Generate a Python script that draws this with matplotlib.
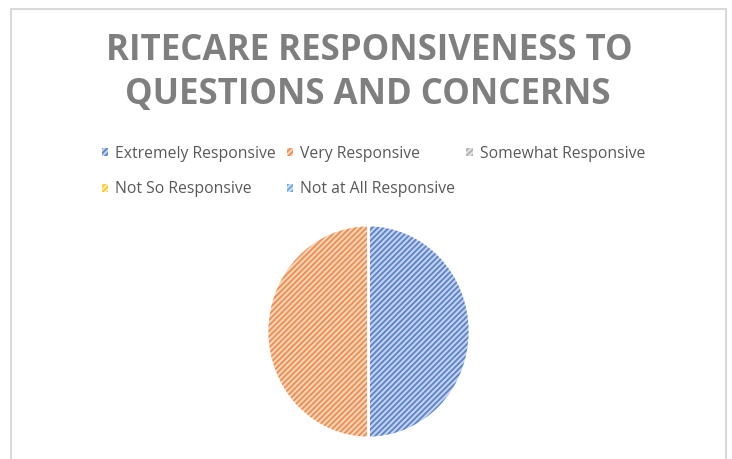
import matplotlib
import matplotlib.pyplot as plt
from matplotlib.patches import Rectangle

plt.switch_backend("agg")
plt.rcParams["font.family"] = ["Open Sans", "DejaVu Sans"]
plt.rcParams["hatch.linewidth"] = 1.3

TITLE_LINES = ["RITECARE RESPONSIVENESS TO", "QUESTIONS AND CONCERNS"]
CATEGORIES = [
    "Extremely Responsive",
    "Very Responsive",
    "Somewhat Responsive",
    "Not So Responsive",
    "Not at All Responsive",
]
SHARES = [50, 50, 0, 0, 0]
COLORS = ["#4472C4", "#ED7D31", "#A5A5A5", "#FFC000", "#5B9BD5"]

W, H = 732, 459


def lighten(hex_color, amount):
    rgb = matplotlib.colors.to_rgb(hex_color)
    return tuple(c + (1 - c) * amount for c in rgb)


fig = plt.figure(figsize=(W / 100, H / 100), dpi=100)

# chart frame (bottom edge is cropped in the original)
fig.patches.append(Rectangle((11 / W, -0.05), 715 / W, 1.05 - 9 / H,
                             transform=fig.transFigure, fill=False,
                             edgecolor="#D9D9D9", linewidth=1.5))

fig.text(369.5 / W, 1 - 60 / H, TITLE_LINES[0], ha="center", va="baseline",
         fontsize=25.1, fontweight="bold", color="#7F7F7F")
fig.text(368 / W, 1 - 104 / H, TITLE_LINES[1], ha="center", va="baseline",
         fontsize=25.1, fontweight="bold", color="#7F7F7F")

ax = fig.add_axes([267 / W, 21 / H, 203 / W, 213 / H])
wedges, _ = ax.pie(SHARES, startangle=90, counterclock=False, radius=1.0,
                   colors=[lighten(c, 0.68) for c in COLORS],
                   wedgeprops={"linewidth": 0})
for w, c in zip(wedges, COLORS):
    w.set_hatch("//////")
    w.set_edgecolor(lighten(c, 0.12))
# white separators between slices
ax.pie(SHARES, startangle=90, counterclock=False, radius=1.0,
       wedgeprops={"fill": False, "edgecolor": "white", "linewidth": 2})
ax.set_xlim(-1.0, 1.0)
ax.set_ylim(-1.0, 1.0)
ax.set_aspect("auto")

# legend order so that ncol=3 fills rows like the original
order = [0, 3, 1, 4, 2]
leg = fig.legend([wedges[i] for i in order], [CATEGORIES[i] for i in order],
                 loc="upper left", bbox_to_anchor=(102 / W, 1 - 146 / H),
                 ncol=3, frameon=False, fontsize=11.3, handlelength=0.4,
                 handleheight=0.4, handletextpad=0.45, columnspacing=0.7,
                 labelspacing=1.23, borderaxespad=0, borderpad=0)
for t in leg.get_texts():
    t.set_color("#595959")

fig.savefig("out.png", dpi=100)
